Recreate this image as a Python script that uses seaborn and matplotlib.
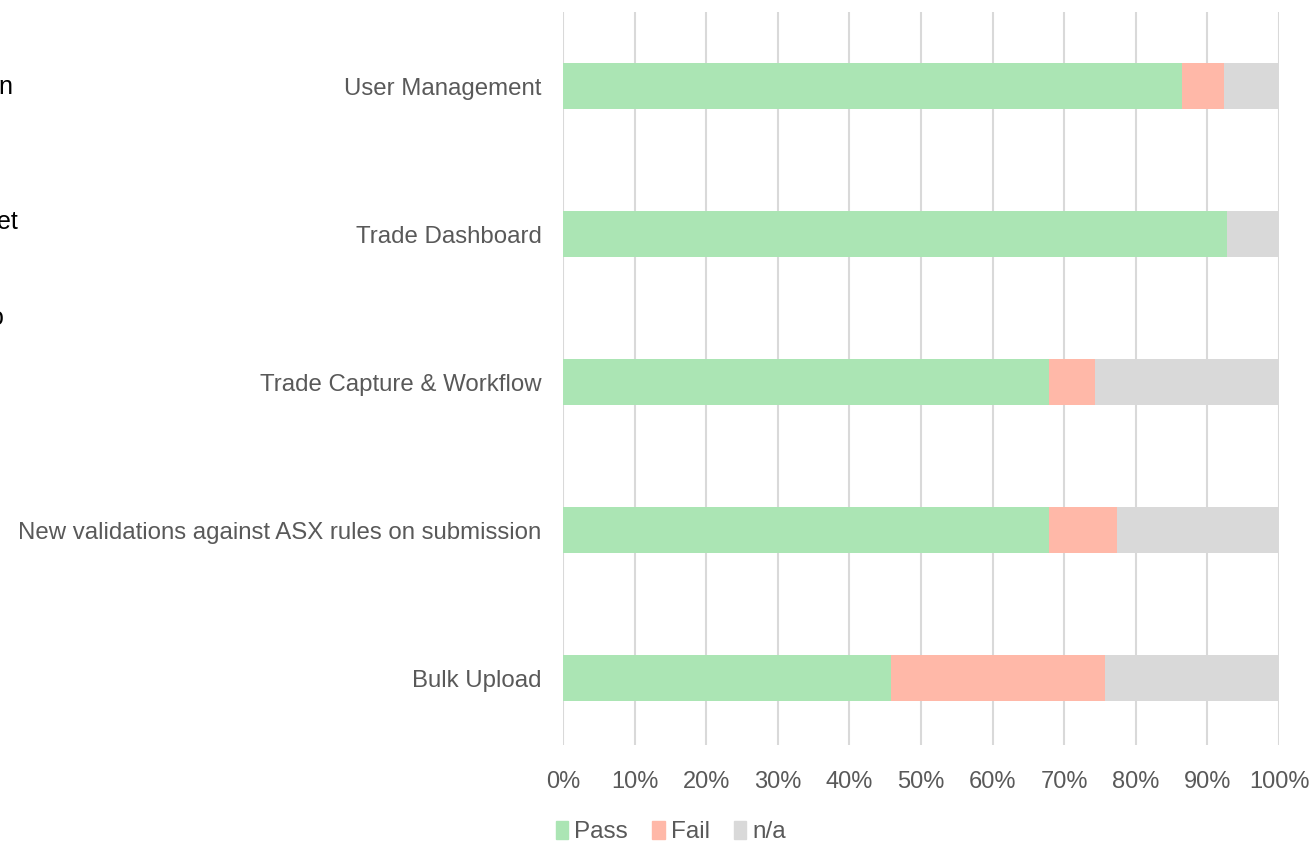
import pandas as pd
import seaborn as sns
import matplotlib.pyplot as plt
from matplotlib.patches import Patch
from matplotlib.ticker import PercentFormatter

# share of test cases per module (percent)
modules = ['User Management', 'Trade Dashboard', 'Trade Capture & Workflow',
           'New validations against ASX rules on submission', 'Bulk Upload']
pass_pct = [86.5, 92.7, 67.9, 67.9, 45.8]
fail_pct = [5.8, 0.0, 6.4, 9.4, 29.9]
na_pct = [7.7, 7.3, 25.7, 22.7, 24.3]

colors = {'Pass': '#ABE5B4', 'Fail': '#FFB8A8', 'n/a': '#D9D9D9'}
grey = '#595959'

df = pd.DataFrame({'module': modules, 'Pass': pass_pct, 'Fail': fail_pct, 'n/a': na_pct})
df['pf'] = df['Pass'] + df['Fail']
df['total'] = df['pf'] + df['n/a']

sns.set_theme(style='white')
plt.rcParams['font.family'] = ['Liberation Sans', 'DejaVu Sans']

fig = plt.figure(figsize=(13.14, 8.44), dpi=100)
ax = fig.add_axes([0.4285, 0.1173, 0.9734 - 0.4285, 0.9858 - 0.1173])

# stacked bars: draw cumulative totals back to front
for col, key in [('total', 'n/a'), ('pf', 'Fail'), ('Pass', 'Pass')]:
    sns.barplot(data=df, x=col, y='module', color=colors[key], width=0.31,
                orient='h', ax=ax, saturation=1, linewidth=0, zorder=3)

ax.set_xlim(0, 100)
ax.set_ylim(4.45, -0.5)
ax.set_xticks(range(0, 101, 10))
ax.xaxis.set_major_formatter(PercentFormatter(decimals=0))
ax.grid(axis='x', color='#D9D9D9', linewidth=1.5, zorder=0)
ax.grid(axis='y', visible=False)
for s in ax.spines.values():
    s.set_visible(False)
ax.set_xlabel('')
ax.set_ylabel('')
ax.tick_params(axis='x', length=0, labelsize=17, labelcolor=grey, pad=19)
ax.tick_params(axis='y', length=0, labelsize=17.3, labelcolor=grey, pad=15.5)

handles = [Patch(color=colors[k], label=k) for k in ['Pass', 'Fail', 'n/a']]
leg = fig.legend(handles=handles, loc='center', bbox_to_anchor=(671 / 1314, 1 - 832 / 844),
                 ncol=3, frameon=False, fontsize=17.5, handlelength=0.5, handleheight=0.75,
                 handletextpad=0.25, columnspacing=1.0, borderpad=0)
for t in leg.get_texts():
    t.set_color(grey)

# clipped fragments of a neighbouring text box at the left edge
fig.text(12 / 1314, 1 - 87 / 844, 'n', ha='right', va='center', fontsize=18, color='black')
fig.text(18 / 1314, 1 - 222 / 844, 'et', ha='right', va='center', fontsize=18, color='black')
fig.text(4 / 1314, 1 - 318 / 844, 'o', ha='right', va='center', fontsize=18, color='black')

fig.savefig('out.png', dpi=100)
